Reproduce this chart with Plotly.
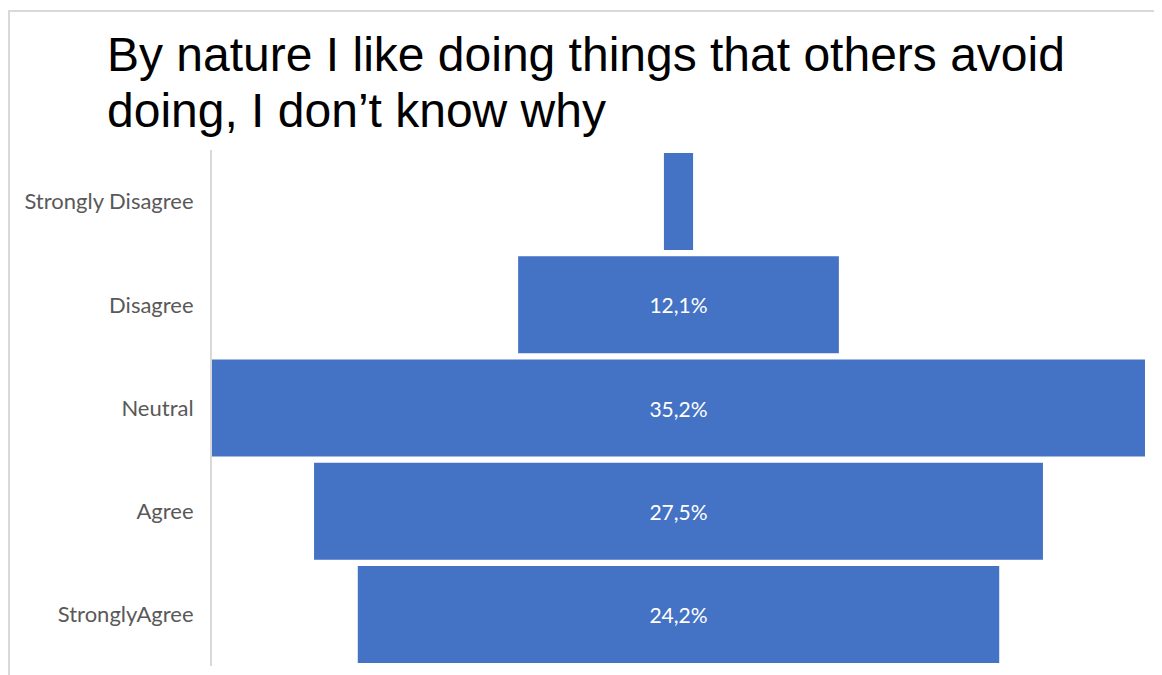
import plotly.graph_objects as go

categories = ["Strongly Disagree", "Disagree", "Neutral", "Agree", "StronglyAgree"]
values = [1.1, 12.1, 35.2, 27.5, 24.2]
labels = ["", "12,1%", "35,2%", "27,5%", "24,2%"]
title_lines = ["By nature I like doing things that others avoid", "doing, I don’t know why"]

# page body has an 8px margin, so figure coordinates = screen - 8
OFF = 8
W, H = 1162 - OFF, 675 - OFF
L, R, T, B = 212 - OFF, W - (1145 - OFF), 150 - OFF, H - (666 - OFF)
pw, ph = W - L - R, H - T - B


def px(sx):
    return (sx - OFF - L) / pw


def py(sy):
    return (H - B - (sy - OFF)) / ph


fig = go.Figure(go.Funnel(
    y=categories,
    x=values,
    text=labels,
    textinfo="text",
    textposition="inside",
    insidetextanchor="middle",
    textfont=dict(color="white", size=21, family="Lato"),
    marker=dict(color="#4472C4", line=dict(width=0)),
    connector=dict(visible=False),
    hoverinfo="skip",
))

mx = max(values) / 2
fig.update_layout(
    width=W, height=H,
    margin=dict(l=L, r=R, t=T, b=B),
    paper_bgcolor="white",
    plot_bgcolor="white",
    showlegend=False,
    funnelgap=0.06,
    xaxis=dict(visible=False, range=[-mx, mx]),
    yaxis=dict(
        showline=True, linecolor="#D9D9D9", linewidth=2,
        ticks="", ticklabelstandoff=12,
        tickfont=dict(family="Lato", size=22, color="#595959"),
        showgrid=False,
    ),
    annotations=[
        dict(text=t, xref="paper", yref="paper", x=px(105), y=py(sy),
             xanchor="left", yanchor="middle", showarrow=False,
             font=dict(family="Liberation Sans, Arial", size=48, color="black"))
        for t, sy in zip(title_lines, [55, 110])
    ],
    shapes=[dict(
        type="rect", xref="paper", yref="paper",
        x0=px(9), x1=px(1160),
        y0=py(700), y1=py(11),
        line=dict(color="#D9D9D9", width=2), fillcolor="rgba(0,0,0,0)",
        layer="below",
    )],
)

fig.write_html("out.html")
